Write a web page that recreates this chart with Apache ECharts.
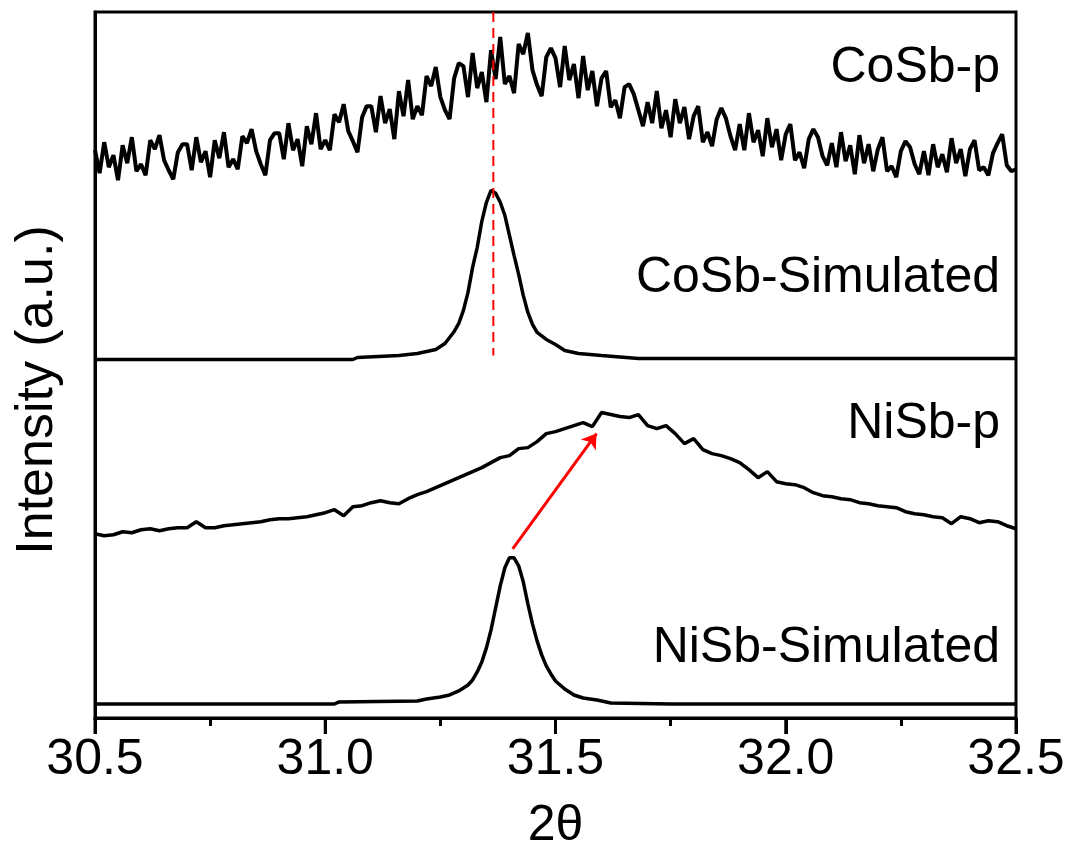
<!DOCTYPE html>
<html>
<head>
<meta charset="utf-8">
<title>XRD CoSb / NiSb</title>
<script src="https://cdn.jsdelivr.net/npm/echarts@6/dist/echarts.min.js"></script>
<style>
  html, body { margin: 0; padding: 0; background: #fff; }
  #main { width: 1073px; height: 851px; }
</style>
</head>
<body>
<div id="main"></div>
<script>
// x axis ticks
var xTicks = [30.5, 31.0, 31.5, 32.0, 32.5];

// CoSb-p (measured, noisy) sampled every 0.01 from 30.50 to 32.50
var cosbPStart = 30.5, cosbPStep = 0.01;
var cosbP = [
  567, 544, 575, 550, 562, 537, 572, 554, 580, 546,
  553, 542, 577, 568, 582, 557, 547, 538, 565, 573,
  573, 547, 580, 555, 566, 540, 577, 559, 585, 550,
  558, 548, 581, 574, 588, 566, 553, 542, 577, 584,
  584, 558, 594, 567, 578, 551, 591, 573, 604, 568,
  577, 567, 603, 595, 613, 586, 576, 565, 600, 611,
  611, 585, 621, 594, 608, 578, 626, 601, 637, 598,
  611, 602, 641, 631, 650, 620, 607, 598, 639, 654,
  651, 620, 664, 629, 645, 615, 667, 638, 680, 633,
  641, 624, 673, 663, 684, 647, 632, 621, 660, 669,
  659, 630, 671, 637, 653, 619, 661, 627, 646, 611,
  639, 646, 610, 617, 599, 630, 633, 623, 607, 591,
  615, 594, 626, 589, 607, 580, 618, 594, 610, 578,
  601, 611, 575, 585, 571, 598, 609, 599, 581, 567,
  593, 567, 604, 575, 587, 561, 599, 570, 588, 557,
  583, 593, 557, 565, 549, 578, 588, 580, 561, 552,
  574, 550, 585, 556, 572, 543, 582, 554, 573, 546,
  568, 580, 546, 551, 540, 566, 576, 570, 553, 543,
  566, 542, 573, 550, 563, 545, 579, 554, 568, 541,
  568, 577, 547, 550, 542, 564, 574, 583, 552, 546,
  548
];

// CoSb simulated pattern
var cosbSimX = [30.50, 31.06, 31.07, 31.16, 31.20, 31.24, 31.26, 31.27, 31.28, 31.29,
  31.30, 31.31, 31.32, 31.33, 31.34, 31.35, 31.36, 31.37, 31.38, 31.39,
  31.40, 31.41, 31.42, 31.43, 31.44, 31.45, 31.46, 31.48, 31.50, 31.52,
  31.55, 31.60, 31.68, 32.50];
var cosbSimY = [358, 358, 360, 362, 364, 368, 374, 380, 386, 394,
  407, 425, 450, 470, 496, 515, 527, 524, 515, 502,
  482, 462, 443, 422, 405, 393, 385, 378, 373, 367,
  364, 362, 359, 359];

// NiSb-p (measured) sampled every 0.02 from 30.50 to 32.50
var nisbPStart = 30.5, nisbPStep = 0.02;
var nisbP = [
  184, 182, 183, 186, 185, 188, 189, 187, 189, 190,
  190, 196, 190, 190, 192, 193, 194, 195, 196, 198,
  199, 199, 200, 201, 203, 205, 208, 202, 211, 212,
  215, 217, 215, 214, 219, 223, 226, 230, 234, 238,
  242, 246, 250, 255, 260, 262, 269, 270, 276, 284,
  286, 289, 292, 295, 291, 305, 303, 301, 300, 303,
  292, 289, 292, 284, 274, 279, 268, 264, 262, 259,
  255, 248, 240, 246, 236, 234, 233, 230, 225, 222,
  221, 219, 218, 215, 214, 212, 211, 210, 206, 204,
  203, 201, 200, 194, 201, 199, 195, 197, 196, 192,
  189
];

// NiSb simulated pattern
var nisbSimX = [30.50, 31.02, 31.03, 31.20, 31.22, 31.25, 31.27, 31.29, 31.31, 31.32,
  31.33, 31.34, 31.35, 31.36, 31.37, 31.38, 31.39, 31.40, 31.41, 31.42,
  31.43, 31.44, 31.45, 31.46, 31.47, 31.48, 31.49, 31.50, 31.52, 31.54,
  31.56, 31.59, 31.62, 31.75, 32.50];
var nisbSimY = [14, 14, 16, 17, 19, 21, 23, 27, 33, 38,
  46, 56, 70, 88, 110, 132, 150, 160, 160, 152,
  136, 114, 94, 77, 63, 52, 44, 37, 29, 23,
  20, 18, 15, 14, 14];

// reference line at CoSb peak and shift arrow
var refLineX = [31.365, 31.365];
var refLineY = [705, 362];
var arrowFrom = [31.407, 169];
var arrowTo = [31.589, 284];

var labels = ['CoSb-p', 'CoSb-Simulated', 'NiSb-p', 'NiSb-Simulated'];

function uniform(start, step, vals) {
    var out = [];
    for (var i = 0; i < vals.length; i++) {
        out.push([+(start + i * step).toFixed(3), vals[i]]);
    }
    return out;
}
function zip(xs, ys) {
    var out = [];
    for (var i = 0; i < xs.length; i++) out.push([xs[i], ys[i]]);
    return out;
}

var FONT = 'Liberation Sans, Arial, sans-serif';
var chart = echarts.init(document.getElementById('main'));

var lineStyleBlack = { color: '#000', width: 3.5 };
var tickStyle = { color: '#000', width: 3 };

var option = {
    animation: false,
    backgroundColor: '#fff',
    grid: {
        left: 95, right: 57, top: 12, bottom: 133,
        containLabel: false, outerBoundsMode: 'none',
        show: true, borderColor: '#000', borderWidth: 3
    },
    xAxis: {
        type: 'value',
        min: xTicks[0], max: xTicks[xTicks.length - 1], interval: 0.5,
        axisLine: { lineStyle: { color: '#000', width: 3 } },
        axisTick: { show: true, inside: false, length: 16, lineStyle: tickStyle },
        minorTick: { show: true, splitNumber: 2, length: 8, lineStyle: tickStyle },
        splitLine: { show: false },
        axisLabel: {
            color: '#000', fontSize: 50, fontFamily: FONT, margin: 17,
            formatter: function (v) { return v.toFixed(1); }
        },
        name: '2θ',
        nameLocation: 'middle',
        nameGap: 83,
        nameTextStyle: { color: '#000', fontSize: 50, fontFamily: FONT }
    },
    yAxis: {
        type: 'value', min: 0, max: 705,
        axisLine: { show: true, lineStyle: { color: '#000', width: 3 } },
        axisTick: { show: false },
        axisLabel: { show: false },
        splitLine: { show: false }
    },
    graphic: [
        { type: 'text', x: 38, y: 390, rotation: Math.PI / 2,
          style: { text: 'Intensity (a.u.)', font: '52px ' + FONT, fill: '#000', align: 'center', verticalAlign: 'middle' } },
        { type: 'text', x: 1000, y: 68,
          style: { text: labels[0], font: '50px ' + FONT, fill: '#000', align: 'right', verticalAlign: 'middle' } },
        { type: 'text', x: 1000, y: 278,
          style: { text: labels[1], font: '50px ' + FONT, fill: '#000', align: 'right', verticalAlign: 'middle' } },
        { type: 'text', x: 1000, y: 424,
          style: { text: labels[2], font: '50px ' + FONT, fill: '#000', align: 'right', verticalAlign: 'middle' } },
        { type: 'text', x: 1000, y: 648,
          style: { text: labels[3], font: '50px ' + FONT, fill: '#000', align: 'right', verticalAlign: 'middle' } }
    ],
    series: [
        { name: labels[0], type: 'line', showSymbol: false, lineStyle: { color: '#000', width: 4 },
          data: uniform(cosbPStart, cosbPStep, cosbP), z: 3 },
        { name: labels[1], type: 'line', showSymbol: false, lineStyle: lineStyleBlack,
          data: zip(cosbSimX, cosbSimY), z: 3 },
        { name: labels[2], type: 'line', showSymbol: false, lineStyle: lineStyleBlack,
          data: uniform(nisbPStart, nisbPStep, nisbP), z: 3 },
        { name: labels[3], type: 'line', showSymbol: false, lineStyle: lineStyleBlack,
          data: zip(nisbSimX, nisbSimY), z: 3 },
        { name: 'ref', type: 'line', showSymbol: false,
          lineStyle: { color: '#ff0000', width: 2, type: [10, 6] },
          data: zip(refLineX, refLineY), z: 4 },
        { name: 'shift', type: 'lines', coordinateSystem: 'cartesian2d',
          symbol: ['none', 'arrow'], symbolSize: 14,
          lineStyle: { color: '#ff0000', width: 3, opacity: 1 },
          data: [{ coords: [arrowFrom, arrowTo] }], z: 5 },
        {
            // major ticks below the bottom axis, placed through the x scale
            name: 'majorTicks', type: 'custom', clip: false, silent: true, z: 6,
            data: xTicks.map(function (t) { return [t, 0]; }),
            renderItem: function (params, api) {
                var p = api.coord([api.value(0), 0]);
                return {
                    type: 'line',
                    shape: { x1: p[0], y1: p[1], x2: p[0], y2: p[1] + 16 },
                    style: { stroke: '#000', lineWidth: 3 }
                };
            }
        }
    ]
};

chart.setOption(option);
window.addEventListener('resize', function () {
    chart.resize();
});
</script>
</body>
</html>
